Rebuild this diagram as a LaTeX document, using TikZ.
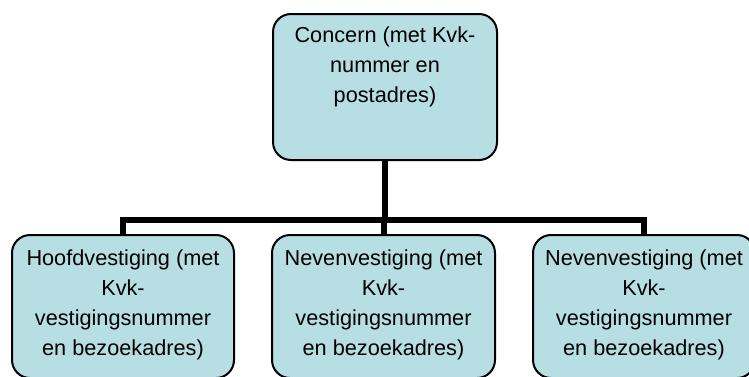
\documentclass[tikz,border=0pt]{standalone}
\usepackage{fontspec}
\setmainfont{Liberation Sans}
\definecolor{boxfill}{HTML}{B7DEE2}
\begin{document}
\begin{tikzpicture}[x=1pt,y=1pt,
  box/.style={draw=black, line width=2pt, fill=boxfill, rounded corners=18pt, inner sep=0pt, outer sep=0pt},
  conn/.style={draw=black, line width=6pt, line join=miter}]
\useasboundingbox (0,0) rectangle (749,-376);
\newcommand{\boxtext}[4]{\parbox[c][#2pt][t]{#1pt}{\centering\fontsize{21.7pt}{30pt}\selectfont\rule{0pt}{#3pt}#4}}
\node[box] (top) at (385,-87) {\boxtext{224}{146}{28}{Concern (met Kvk-\\nummer en\\postadres)}};
\node[box] (left) at (123,-306.5) {\boxtext{222}{143}{30}{Hoofdvestiging (met\\Kvk-\\vestigingsnummer\\en bezoekadres)}};
\node[box] (mid) at (383.5,-306.5) {\boxtext{223}{143}{30}{Nevenvestiging (met\\Kvk-\\vestigingsnummer\\en bezoekadres)}};
\node[box] (right) at (644,-306.5) {\boxtext{222}{143}{30}{Nevenvestiging (met\\Kvk-\\vestigingsnummer\\en bezoekadres)}};
\coordinate (bus) at (0,-220);
\draw[conn] (top.south) -- (top.south |- bus);
\draw[conn] (left.north) -- (left.north |- bus) -- (right.north |- bus) -- (right.north);
\draw[conn] (mid.north) -- (mid.north |- bus);
\end{tikzpicture}
\end{document}
